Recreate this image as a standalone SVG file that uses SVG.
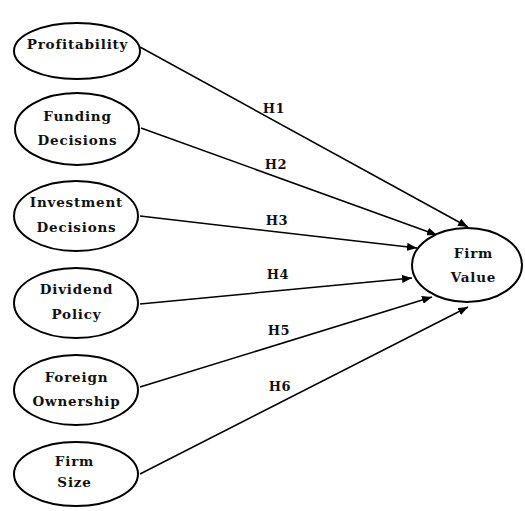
<svg xmlns="http://www.w3.org/2000/svg" width="525" height="511" viewBox="0 0 525 511">
<style>
.n ellipse{fill:#fff;stroke:#000;stroke-width:2}
text{font-family:"DejaVu Serif","Liberation Serif",serif;font-weight:bold;font-size:13.5px;text-anchor:middle;fill:#111;letter-spacing:0.8px}
.c line{stroke:#000;stroke-width:1.5;marker-end:url(#ah)}
.h{font-size:13px;letter-spacing:0.5px}
</style>
<defs>
<marker id="ah" viewBox="0 0 10 8" refX="10" refY="4" markerWidth="10" markerHeight="8" markerUnits="userSpaceOnUse" orient="auto">
<path d="M0,0 L10,4 L0,8 Z" fill="#000"/>
</marker>
</defs>
<g class="c" id="connectors">
<line x1="140" y1="47" x2="468" y2="227"/>
<line x1="141" y1="128" x2="437" y2="235"/>
<line x1="140" y1="216" x2="417" y2="248"/>
<line x1="140" y1="304" x2="412" y2="278"/>
<line x1="140" y1="387" x2="432" y2="297"/>
<line x1="140" y1="474" x2="468" y2="307"/>
<text class="h" x="274" y="113">H1</text>
<text class="h" x="276" y="169">H2</text>
<text class="h" x="277" y="225">H3</text>
<text class="h" x="278" y="279">H4</text>
<text class="h" x="279" y="335">H5</text>
<text class="h" x="280" y="391">H6</text>
</g>
<g class="n" id="profitability"><ellipse cx="77" cy="51" rx="63" ry="28"/><text x="77.5" y="49">Profitability</text></g>
<g class="n" id="funding"><ellipse cx="77" cy="129" rx="62" ry="36"/><text x="77.5" y="121">Funding</text><text x="77.5" y="145">Decisions</text></g>
<g class="n" id="investment"><ellipse cx="76" cy="216" rx="62" ry="35"/><text x="76.5" y="207">Investment</text><text x="76.5" y="232">Decisions</text></g>
<g class="n" id="dividend"><ellipse cx="76" cy="303" rx="62" ry="35"/><text x="76.5" y="294">Dividend</text><text x="76.5" y="319">Policy</text></g>
<g class="n" id="foreign"><ellipse cx="76" cy="390" rx="62" ry="35"/><text x="76.5" y="382">Foreign</text><text x="76.5" y="406">Ownership</text></g>
<g class="n" id="firmsize"><ellipse cx="76" cy="474" rx="62" ry="32"/><text x="74.5" y="466">Firm</text><text x="74.5" y="487">Size</text></g>
<g class="n" id="firmvalue"><ellipse cx="467" cy="265" rx="55" ry="37"/><text x="473.5" y="258">Firm</text><text x="473.5" y="282">Value</text></g>
</svg>
